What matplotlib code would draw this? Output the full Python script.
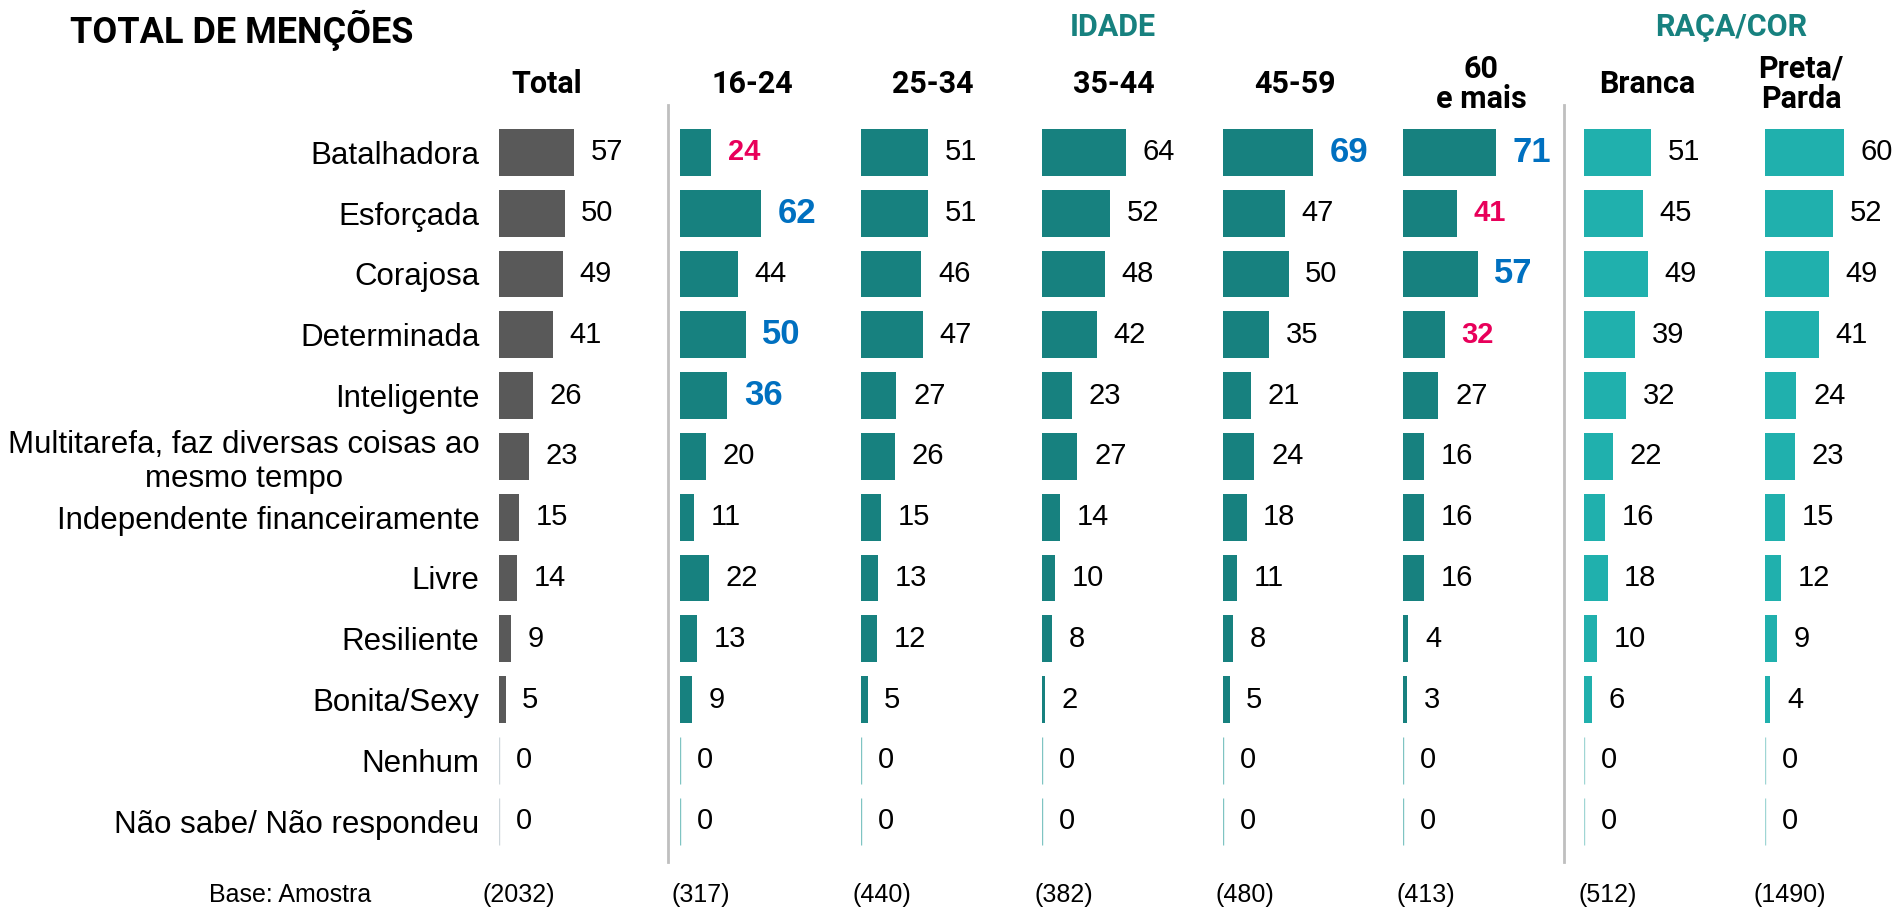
import matplotlib.pyplot as plt
from matplotlib.lines import Line2D

categorias = ["Batalhadora", "Esforçada", "Corajosa", "Determinada", "Inteligente",
              "Multitarefa, faz diversas coisas ao\nmesmo tempo",
              "Independente financeiramente", "Livre", "Resiliente", "Bonita/Sexy",
              "Nenhum", "Não sabe/ Não respondeu"]

colunas = ["Total", "16-24", "25-34", "35-44", "45-59", "60\ne mais", "Branca", "Preta/\nParda"]
bases = ["(2032)", "(317)", "(440)", "(382)", "(480)", "(413)", "(512)", "(1490)"]

total = [57, 50, 49, 41, 26, 23, 15, 14, 9, 5, 0, 0]
idade_16_24 = [24, 62, 44, 50, 36, 20, 11, 22, 13, 9, 0, 0]
idade_25_34 = [51, 51, 46, 47, 27, 26, 15, 13, 12, 5, 0, 0]
idade_35_44 = [64, 52, 48, 42, 23, 27, 14, 10, 8, 2, 0, 0]
idade_45_59 = [69, 47, 50, 35, 21, 24, 18, 11, 8, 5, 0, 0]
idade_60 = [71, 41, 57, 32, 27, 16, 16, 16, 4, 3, 0, 0]
branca = [51, 45, 49, 39, 32, 22, 16, 18, 10, 6, 0, 0]
preta_parda = [60, 52, 49, 41, 24, 23, 15, 12, 9, 4, 0, 0]

# destaques: +1 acima do total (azul), -1 abaixo (vermelho)
destaque_16_24 = [-1, 1, 0, 1, 1, 0, 0, 0, 0, 0, 0, 0]
destaque_45_59 = [1, 0, 0, 0, 0, 0, 0, 0, 0, 0, 0, 0]
destaque_60 = [1, -1, 1, -1, 0, 0, 0, 0, 0, 0, 0, 0]
sem_destaque = [0] * 12

series = [total, idade_16_24, idade_25_34, idade_35_44, idade_45_59, idade_60, branca, preta_parda]
destaques = [sem_destaque, destaque_16_24, sem_destaque, sem_destaque, destaque_45_59,
             destaque_60, sem_destaque, sem_destaque]

CINZA = "#595959"
TEAL = "#17817F"
TURQ = "#20B0AD"
AZUL = "#0070C0"
VERM = "#E8005A"
cores = [CINZA] + [TEAL] * 5 + [TURQ] * 2
cores_zero = ["#CDD6DB"] + ["#7FC4C2"] * 5 + ["#9FD6D4"] * 2

W, H = 1902, 910
fig = plt.figure(figsize=(W / 100, H / 100), dpi=100)

def fx(x):
    return x / W

def fy(y):
    return 1 - y / H

inicio = [499, 680, 861, 1042, 1223, 1403, 1584, 1765]
larg_col = 181
px_por_unid = 1.31
topo, base_y = 122, 851.5

rotulo = "Liberation Sans"
cabec = "Roboto"

for i, vals in enumerate(series):
    ax = fig.add_axes([fx(inicio[i]), fy(base_y), larg_col / W, (base_y - topo) / H])
    ypos = list(range(len(categorias)))
    bars = ax.barh(ypos, vals, height=0.77, color=cores[i], edgecolor="none")
    for b, v in zip(bars, vals):
        if v == 0:
            b.set_edgecolor(cores_zero[i])
            b.set_linewidth(1.0)
    for y, v, d in zip(ypos, vals, destaques[i]):
        if d == 0:
            cor, peso, tam = "black", "normal", 21
        elif d > 0:
            cor, peso, tam = AZUL, "bold", 25
        else:
            cor, peso, tam = VERM, "bold", 21
        ax.annotate(str(v), (v, y), xytext=(12, 0), textcoords="offset points",
                    ha="left", va="center", fontsize=tam, color=cor,
                    fontweight=peso, family=rotulo)
    ax.set_xlim(0, larg_col / px_por_unid)
    ax.set_ylim(len(categorias) - 0.5, -0.5)
    for s in ax.spines.values():
        s.set_visible(False)
    ax.set_xticks([])
    if i == 0:
        ax.set_yticks(ypos)
        ax.set_yticklabels(categorias, fontsize=22.5, family=rotulo)
        ax.tick_params(axis="y", length=0, pad=14)
        for t in ax.get_yticklabels():
            t.set_multialignment("center")
    else:
        ax.set_yticks([])

# cabeçalhos
cab_x = [547, 752, 933, 1114, 1295, 1481, 1647, 1801]
for x, c in zip(cab_x, colunas):
    fig.text(fx(x), fy(84), c, ha="center", va="center", fontsize=22,
             fontweight="bold", family=cabec, linespacing=1.0)

base_x = [519, 701, 882, 1064, 1245, 1426, 1608, 1790]
for x, b in zip(base_x, bases):
    fig.text(fx(x), fy(895), b, ha="center", va="center", fontsize=18, family=rotulo)
fig.text(fx(209), fy(895), "Base: Amostra", ha="left", va="center", fontsize=18, family=rotulo)

fig.text(fx(70), fy(30), "TOTAL DE MENÇÕES", ha="left", va="center", fontsize=26,
         fontweight="bold", family=cabec)
fig.text(fx(1113), fy(27), "IDADE", ha="center", va="center", fontsize=22,
         fontweight="bold", family=cabec, color=TEAL)
fig.text(fx(1731), fy(27), "RAÇA/COR", ha="center", va="center", fontsize=22,
         fontweight="bold", family=cabec, color=TEAL)

for x in [668, 1564]:
    fig.add_artist(Line2D([fx(x), fx(x)], [fy(105), fy(862)], color="#BFBFBF", lw=2))

fig.savefig("out.png", dpi=100, facecolor="white")
